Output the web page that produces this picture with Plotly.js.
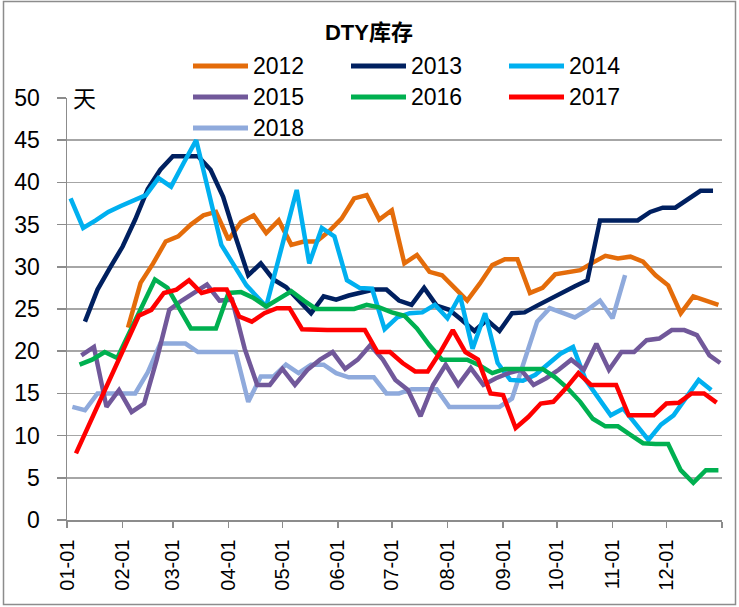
<!DOCTYPE html>
<html>
<head>
<meta charset="utf-8">
<script src="https://cdn.plot.ly/plotly-3.0.1.min.js"></script>
<style>
html,body{margin:0;padding:0;background:#fff;}
#chart{width:739px;height:607px;}
</style>
</head>
<body>
<div id="chart"></div>
<script>
// ---------------- data ----------------
const seriesNames = ['2012','2013','2014','2015','2016','2017','2018'];
const seriesColors = ['#E46C0A','#002060','#00B0F0','#71589A','#00B050','#FF0000','#8FAADC'];

const d2012 = ['02-04','02-11','02-18','02-25','03-04','03-11','03-18','03-25','04-01','04-08','04-15','04-22','04-29','05-06','05-13','05-20','05-27','06-03','06-10','06-17','06-24','07-01','07-08','07-15','07-22','07-29','08-05','08-12','08-19','08-26','09-02','09-09','09-16','09-23','09-30','10-07','10-14','10-21','10-28','11-04','11-11','11-18','11-25','12-02','12-09','12-16','12-23','12-30'];
const v2012 = [22.8,28.1,30.4,33.0,33.6,35.0,36.1,36.5,33.2,35.3,36.1,34.0,35.5,32.6,33.0,33.0,34.2,35.7,38.1,38.5,35.6,36.7,30.4,31.4,29.4,29.0,27.5,26.0,28.0,30.2,30.9,30.9,26.9,27.5,29.1,29.3,29.6,30.5,31.3,31.0,31.2,30.6,29.0,27.8,24.5,26.5,26.0,25.5];

const d2013 = ['01-11','01-18','01-25','02-01','02-08','02-15','02-22','03-01','03-08','03-15','03-22','03-29','04-05','04-12','04-19','04-26','05-03','05-10','05-17','05-24','05-31','06-07','06-14','06-21','06-28','07-05','07-12','07-19','07-26','08-02','08-09','08-16','08-23','08-30','09-06','09-13','09-20','09-27','10-04','10-11','10-18','10-25','11-01','11-08','11-15','11-22','11-29','12-06','12-13','12-20','12-27'];
const v2013 = [23.5,27.3,29.9,32.4,35.6,39.2,41.5,43.1,43.1,43.1,41.5,38.3,33.5,29.0,30.4,28.5,27.6,26.0,24.5,26.5,26.1,26.6,27.0,27.3,27.3,26.0,25.5,27.5,25.4,24.9,23.7,22.4,23.7,22.4,24.5,24.6,25.4,26.2,27.0,27.7,28.4,35.5,35.5,35.5,35.5,36.5,37.0,37.0,38.0,39.0,39.0];

const d2014 = ['01-03','01-10','01-17','01-24','01-31','02-07','02-14','02-21','02-28','03-07','03-14','03-21','03-28','04-04','04-11','04-22','05-09','05-16','05-23','05-30','06-06','06-13','06-20','06-27','07-04','07-11','07-18','07-25','08-01','08-08','08-15','08-22','08-29','09-05','09-12','09-19','09-26','10-03','10-10','10-17','10-24','10-31','11-07','11-14','11-21','11-28','12-05','12-12','12-19','12-26'];
const v2014 = [38.1,34.6,35.5,36.5,37.2,37.8,38.5,40.5,39.5,42.3,45.0,38.8,32.6,30.2,27.8,25.3,39.1,30.4,34.6,33.6,28.4,27.5,27.4,22.6,24.0,24.5,24.6,25.5,23.9,26.6,20.3,24.5,18.6,16.6,16.5,17.2,18.5,19.7,20.5,16.6,14.5,12.4,13.2,11.3,9.5,11.3,12.4,14.5,16.6,15.4];

const d2015 = ['01-09','01-16','01-23','01-30','02-06','02-13','02-20','02-27','03-06','03-13','03-20','03-27','04-03','04-10','04-17','04-24','05-01','05-08','05-15','05-22','05-29','06-05','06-12','06-19','06-26','07-03','07-10','07-17','07-24','07-31','08-07','08-14','08-21','08-28','09-04','09-11','09-18','09-25','10-02','10-09','10-16','10-23','10-30','11-06','11-13','11-20','11-27','12-04','12-11','12-18','12-25','12-31'];
const v2015 = [19.5,20.5,13.4,15.4,12.8,13.8,19.0,24.9,26.0,27.0,27.9,26.0,26.1,20.3,16.0,16.0,17.9,16.0,17.8,19.0,19.9,17.9,19.0,20.7,19.0,16.6,15.4,12.3,16.0,18.4,16.0,18.0,16.0,16.8,17.4,17.8,16.0,16.8,17.8,19.0,17.8,20.9,17.8,19.9,19.9,21.3,21.5,22.5,22.5,21.9,19.5,18.6];

const d2016 = ['01-08','01-15','01-22','01-29','02-05','02-12','02-19','02-26','03-04','03-11','03-18','03-25','04-01','04-08','04-15','04-22','04-29','05-06','05-13','05-20','05-27','06-03','06-10','06-17','06-24','07-01','07-08','07-15','07-22','07-29','08-05','08-12','08-19','08-26','09-02','09-09','09-16','09-23','09-30','10-07','10-14','10-21','10-28','11-04','11-11','11-18','11-25','12-02','12-09','12-16','12-23','12-30'];
const v2016 = [18.4,19.0,19.9,19.2,22.3,25.4,28.5,27.5,25.2,22.7,22.7,22.7,26.9,27.0,26.3,25.3,26.2,27.1,26.0,25.0,25.0,25.0,25.0,25.5,25.2,24.6,24.2,22.7,20.7,19.0,19.0,19.0,18.3,17.4,17.9,17.9,17.9,17.9,16.9,15.6,14.0,12.0,11.1,11.1,10.1,9.1,9.0,9.0,5.9,4.4,5.9,5.9];

const d2017 = ['01-06','02-10','02-17','02-24','03-03','03-10','03-17','03-24','03-31','04-07','04-14','04-21','04-28','05-05','05-12','05-19','05-26','06-02','06-09','06-16','06-23','06-30','07-07','07-14','07-21','07-28','08-04','08-11','08-18','08-25','09-01','09-08','09-15','09-22','09-29','10-06','10-13','10-20','10-27','11-03','11-10','11-17','11-24','12-01','12-08','12-15','12-22','12-29'];
const v2017 = [7.9,24.2,24.9,26.9,27.3,28.4,26.9,27.3,27.3,24.1,23.5,24.5,25.1,25.1,22.6,22.5,22.5,22.5,22.5,22.5,19.9,19.9,18.6,17.6,17.6,19.9,22.5,19.9,19.0,15.0,14.8,10.9,12.2,13.8,14.0,15.6,17.4,16.0,16.0,16.0,12.4,12.4,12.4,13.8,13.9,15.0,15.0,13.9];

const d2018 = ['01-04','01-11','01-18','01-25','02-01','02-08','02-15','02-22','03-01','03-08','03-15','03-22','03-29','04-05','04-12','04-19','04-26','05-03','05-10','05-17','05-24','05-31','06-07','06-14','06-21','06-28','07-05','07-12','07-19','07-26','08-02','08-09','08-16','08-23','08-30','09-06','09-13','09-20','09-27','10-04','10-11','10-18','10-25','11-01','11-08'];
const v2018 = [13.4,13.0,15.0,15.0,15.0,15.0,17.5,20.9,20.9,20.9,19.9,19.9,19.9,19.9,14.0,17.0,17.0,18.4,17.4,18.4,18.4,17.4,16.9,16.9,16.9,15.0,15.0,15.5,15.5,15.5,13.4,13.4,13.4,13.4,13.4,14.4,18.8,23.5,25.1,24.6,24.0,24.9,26.0,23.9,29.0];

const monthTicks = ['01-01','02-01','03-01','04-01','05-01','06-01','07-01','08-01','09-01','10-01','11-01','12-01'];
const chartTitle = 'DTY库存';
const unitLabel = '天';

// ---------------- build ----------------
const baseYear = '2017-';
const allDates = [d2012,d2013,d2014,d2015,d2016,d2017,d2018];
const allValues = [v2012,v2013,v2014,v2015,v2016,v2017,v2018];
const drawOrder = [6,0,1,2,3,4,5];

const traces = drawOrder.map(i => ({
  type: 'scatter', mode: 'lines', name: seriesNames[i],
  x: allDates[i].map(d => baseYear + d),
  y: allValues[i],
  line: {color: seriesColors[i], width: 4.5},
  hoverinfo: 'skip', showlegend: false
}));

const W = 739, H = 607, ML = 67, MR = 17, MT = 98, MB = 87;
const PW = W - ML - MR, PH = H - MT - MB;
const px = x => (x - ML) / PW;
const py = y => (H - MB - y) / PH;

const FONT = 'Liberation Sans, Arial, Noto Sans CJK SC, sans-serif';
const shapes = [];
const annotations = [];

seriesNames.forEach((n, i) => {
  const col = i % 3, row = Math.floor(i / 3);
  const x0 = 193 + 158 * col, yy = 66 + 31 * row;
  shapes.push({type:'line', xref:'paper', yref:'paper', x0:px(x0), x1:px(x0+55), y0:py(yy), y1:py(yy),
    line:{color:seriesColors[i], width:5}});
  annotations.push({xref:'paper', yref:'paper', x:px(x0+58), y:py(yy), xanchor:'left', yanchor:'middle',
    text:n, showarrow:false, font:{family:FONT, size:23, color:'#000'}});
});

annotations.push({xref:'paper', yref:'paper', x:px(84), y:py(97), xanchor:'center', yanchor:'middle',
  text:unitLabel, showarrow:false, font:{family:'Noto Sans CJK SC, sans-serif', size:23, color:'#000'}});

shapes.push({type:'rect', xref:'paper', yref:'paper', x0:px(3.5), x1:px(735.5), y0:py(1.5), y1:py(604.5),
  line:{color:'#8c8c8c', width:1.5}, fillcolor:'rgba(0,0,0,0)', layer:'below'});

const tickVals = monthTicks.map(t => baseYear + t).concat(['2018-01-01']);
const tickText = monthTicks.concat(['']);

const layout = {
  width: W, height: H,
  margin: {l: ML, r: MR, t: MT, b: MB, pad: 0},
  paper_bgcolor: '#ffffff', plot_bgcolor: '#ffffff',
  showlegend: false,
  title: {text: '<b>' + chartTitle + '</b>', font: {family: FONT, size: 22, color: '#000'},
    x: 369 / W, xanchor: 'center', y: 1 - 32 / H, yanchor: 'middle', xref: 'container', yref: 'container'},
  xaxis: {
    type: 'date', range: ['2017-01-01', '2018-01-01'],
    tickmode: 'array', tickvals: tickVals, ticktext: tickText, tickangle: -90,
    ticks: 'outside', ticklen: 6, tickcolor: '#8c8c8c', tickwidth: 1.5,
    showline: true, linecolor: '#8c8c8c', linewidth: 1.5,
    showgrid: false, zeroline: false,
    tickfont: {family: FONT, size: 20, color: '#000'}, ticklabelstandoff: 4
  },
  yaxis: {
    range: [0, 50], tickmode: 'linear', tick0: 0, dtick: 5,
    ticks: 'outside', ticklen: 9, tickcolor: '#8c8c8c', tickwidth: 1.5,
    showline: true, linecolor: '#8c8c8c', linewidth: 1.5,
    showgrid: true, gridcolor: '#a6a6a6', gridwidth: 1.5, zeroline: false,
    tickfont: {family: FONT, size: 23, color: '#000'}, ticklabelstandoff: 12
  },
  shapes: shapes,
  annotations: annotations
};

Plotly.newPlot('chart', traces, layout, {staticPlot: true, displayModeBar: false});
</script>
</body>
</html>
